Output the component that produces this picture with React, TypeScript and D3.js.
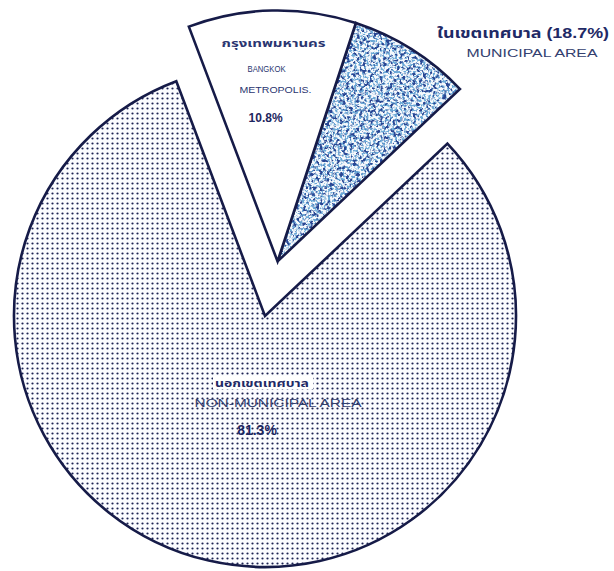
import React from "react";
import * as d3 from "d3";

// population shares by area type (per cent)
const areaKeys = ["bangkok", "otherMunicipal", "nonMunicipal"];
const areaShares = [10.8, 7.9, 81.3];
const thaiNames = ["กรุงเทพมหานคร", "ในเขตเทศบาล", "นอกเขตเทศบาล"];
const englishNames = [["BANGKOK", "METROPOLIS."], ["MUNICIPAL AREA"], ["NON-MUNICIPAL AREA"]];
const municipalShare = 18.7;

const width = 614,
  height = 571;
const cx = 265,
  cy = 316,
  radius = 251,
  explode = 56;
const startAngle = (-20.7 * Math.PI) / 180;
const ink = "#161b48";
const fontFamily = "'Liberation Sans', 'Noto Sans', 'Noto Sans Thai', 'DejaVu Sans', sans-serif";

const pct = (v: number) => v.toFixed(1) + "%";

export default function App() {
  const pie = d3
    .pie<number>()
    .sort(null)
    .value(d => d)
    .startAngle(startAngle)
    .endAngle(startAngle + 2 * Math.PI);
  const arcs = pie(areaShares);
  const arc = d3.arc<d3.PieArcDatum<number>>().innerRadius(0).outerRadius(radius);

  // municipal wedges (bangkok + other) are pulled out together
  const midMunicipal = (arcs[0].startAngle + arcs[1].endAngle) / 2;
  const mx = cx + Math.sin(midMunicipal) * explode;
  const my = cy - Math.cos(midMunicipal) * explode;
  const origin = [
    [mx, my],
    [mx, my],
    [cx, cy],
  ];

  const paths = arcs.map(a => arc(a) as string);

  return (
    <svg width={width} height={height} style={{ position: "absolute", left: 0, top: 0, background: "#fff" }}>
      <defs>
        <pattern id="dots" width={5} height={5} patternUnits="userSpaceOnUse">
          <rect width={5} height={5} fill="#fbfcff" />
          <circle cx={2.5} cy={2.5} r={1.1} fill="#1d2353" />
        </pattern>
        <filter
          id="mottle"
          filterUnits="userSpaceOnUse"
          x={0}
          y={0}
          width={width}
          height={height}
          colorInterpolationFilters="sRGB"
        >
          <feTurbulence type="fractalNoise" baseFrequency="0.3" numOctaves={2} seed={7} result="n1" />
          <feColorMatrix
            in="n1"
            type="matrix"
            values="0 0 0 0 0.16  0 0 0 0 0.28  0 0 0 0 0.58  7 0 0 0 -3.7"
            result="dark"
          />
          <feTurbulence type="fractalNoise" baseFrequency="0.42" numOctaves={2} seed={23} result="n2" />
          <feColorMatrix
            in="n2"
            type="matrix"
            values="0 0 0 0 0.42  0 0 0 0 0.66  0 0 0 0 0.84  6 0 0 0 -2.8"
            result="mid"
          />
          <feFlood floodColor="#f6f9fc" result="bg" />
          <feMerge>
            <feMergeNode in="bg" />
            <feMergeNode in="mid" />
            <feMergeNode in="dark" />
          </feMerge>
        </filter>
        <clipPath id="clipOther">
          <path d={paths[1]} transform={`translate(${origin[1][0]},${origin[1][1]})`} />
        </clipPath>
      </defs>

      {/* non-municipal */}
      <path
        d={paths[2]}
        transform={`translate(${origin[2][0]},${origin[2][1]})`}
        fill="url(#dots)"
        stroke={ink}
        strokeWidth={2.6}
        strokeLinejoin="miter"
      />
      {/* other municipal, mottled */}
      <rect x={0} y={0} width={width} height={height} filter="url(#mottle)" clipPath="url(#clipOther)" />
      <path
        d={paths[1]}
        transform={`translate(${origin[1][0]},${origin[1][1]})`}
        fill="none"
        stroke={ink}
        strokeWidth={2.6}
        strokeLinejoin="miter"
      />
      {/* bangkok */}
      <path
        d={paths[0]}
        transform={`translate(${origin[0][0]},${origin[0][1]})`}
        fill="#fff"
        stroke={ink}
        strokeWidth={2.6}
        strokeLinejoin="miter"
      />

      {/* bangkok labels */}
      <g fontFamily={fontFamily} textAnchor="middle" fill="#2a3570">
        <text x={mx - 4} y={my - 214} fontSize={10} fontWeight="bold" textLength={104} lengthAdjust="spacingAndGlyphs">
          {thaiNames[0]}
        </text>
        <text x={mx - 11} y={my - 189} fontSize={9} textLength={38} lengthAdjust="spacingAndGlyphs">
          {englishNames[0][0]}
        </text>
        <text x={mx - 2} y={my - 168} fontSize={9} textLength={72} lengthAdjust="spacingAndGlyphs">
          {englishNames[0][1]}
        </text>
        <text x={mx - 12} y={my - 139} fontSize={12} fontWeight="bold" fill="#1d2660">
          {pct(areaShares[0])}
        </text>
      </g>

      {/* municipal callout */}
      <g fontFamily={fontFamily} textAnchor="middle">
        <text x={523} y={38} fontSize={14} fontWeight="bold" fill="#1f2a66" textLength={172} lengthAdjust="spacingAndGlyphs">
          {thaiNames[1] + " (" + pct(municipalShare) + ")"}
        </text>
        <text x={532} y={57} fontSize={10.5} fill="#33406f" textLength={131} lengthAdjust="spacingAndGlyphs">
          {englishNames[1][0]}
        </text>
      </g>

      {/* non-municipal labels */}
      <g fontFamily={fontFamily} textAnchor="middle">
        <rect x={cx - 52} y={cy + 60} width={100} height={13} fill="#fff" />
        <text x={cx - 3} y={cy + 71} fontSize={10} fontWeight="bold" fill="#1f2a66" textLength={94} lengthAdjust="spacingAndGlyphs">
          {thaiNames[2]}
        </text>
        <text x={cx + 13} y={cy + 91} fontSize={10} fill="#33406f" textLength={167} lengthAdjust="spacingAndGlyphs">
          {englishNames[2][0]}
        </text>
        <text x={cx - 8} y={cy + 119} fontSize={14} fontWeight="bold" fill="#1d2660">
          {pct(areaShares[2])}
        </text>
      </g>
    </svg>
  );
}
